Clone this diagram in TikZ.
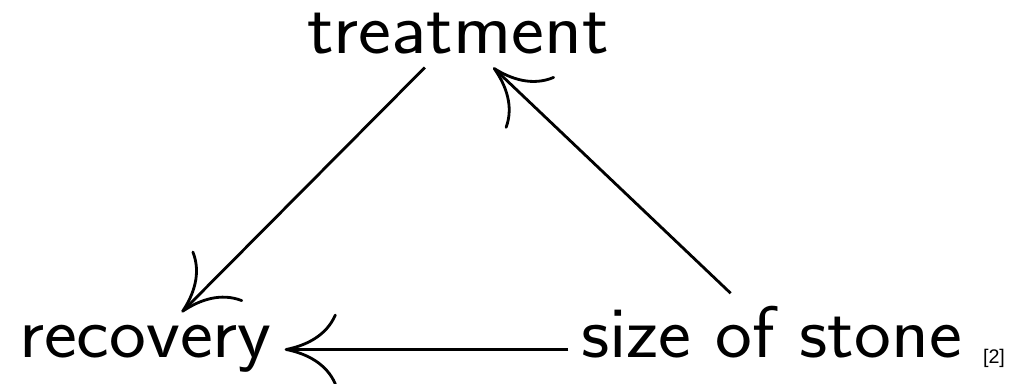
\documentclass[tikz,border=0pt]{standalone}
\usepackage{fontspec}
\setsansfont{Latin Modern Sans}[FakeStretch=1.07]
\newfontfamily\reffont{Liberation Sans}
\usetikzlibrary{arrows.meta}

\begin{document}
\begin{tikzpicture}[x=0.025cm,y=0.025cm,
  var/.style={font=\sffamily\fontsize{52}{60}\selectfont, inner sep=9pt, anchor=base},
  arr/.style={line width=2pt, -{Computer Modern Rightarrow[length=37pt,width=51pt]}}]
\useasboundingbox (0,0) rectangle (1019,383);

\node[var] (treatment) at (458,329) {treatment};
\node[var] (recovery) at (145.5,25.5) {recovery};
\node[var] (stone) at (771.5,25.5) {size of stone};
\node[font=\reffont\fontsize{14}{16}\selectfont, anchor=base] (ref) at (994,19.5) {[2]};

\draw[arr] (treatment) -- (recovery);
\draw[arr] (stone) -- (treatment);
\draw[arr] ([yshift=5.7pt]stone.base west) -- ([yshift=5.7pt]recovery.base east);
\end{tikzpicture}
\end{document}
